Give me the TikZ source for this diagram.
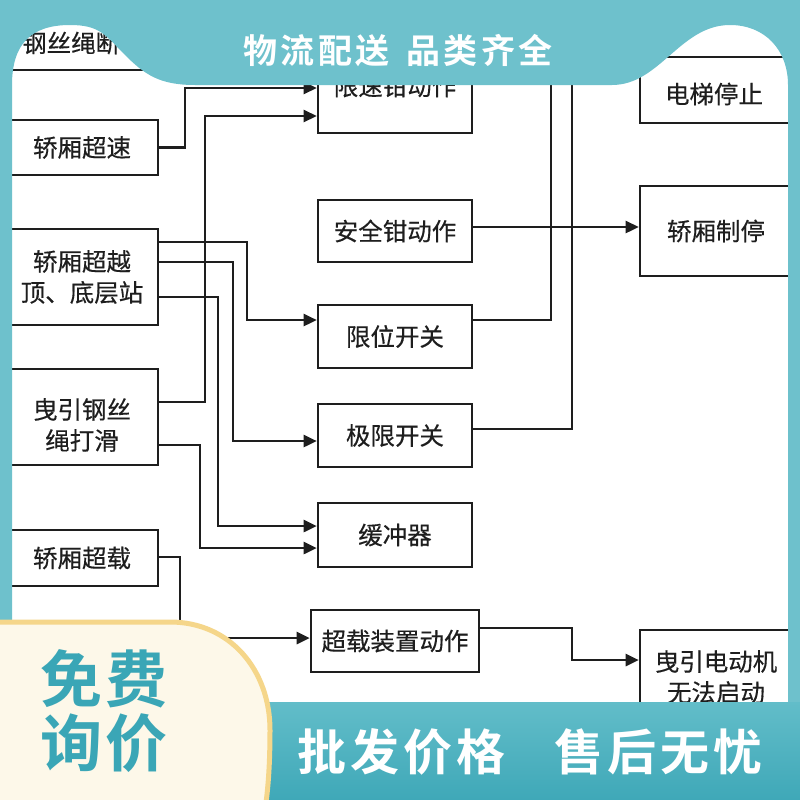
\documentclass[tikz,border=0pt]{standalone}
\usepackage{fontspec}
\newfontfamily\cjk{Noto Sans CJK SC}[BoldFont={* Bold}]
\newfontfamily\cjkm{Noto Sans CJK SC}[FakeBold=0.35]
\usetikzlibrary{arrows.meta,calc}
\definecolor{frame}{HTML}{6EC1CC}
\definecolor{bandA}{HTML}{62BDC9}
\definecolor{bandB}{HTML}{3DA7B7}
\definecolor{cream}{HTML}{FDF8E9}
\definecolor{goldb}{HTML}{F5D68A}
\definecolor{tealtxt}{HTML}{3AA6B6}
\definecolor{ink}{HTML}{1E1E1E}
\tikzset{
  boxtext/.style={font=\cjkm\fontsize{24.5}{31}\selectfont, text=ink, align=center},
  box/.style={draw=ink, line width=2.6pt, boxtext, inner sep=0pt},
  arr/.style={draw=ink, line width=2.6pt, -{Triangle[length=13pt,width=12pt]}},
}
\begin{document}
\begin{tikzpicture}[x=1pt,y=-1pt]
\useasboundingbox (0,0) rectangle (800,800);
\fill[white] (0,0) rectangle (800,800);
% left column
\node[box, minimum width=200pt, minimum height=54pt] (wirebox) at (106,43) {};
\node[boxtext, inner sep=0pt, anchor=west] (wiretxt) at (22,43) {钢丝绳断裂};
\node[box, minimum width=152pt, minimum height=55pt] (speed) at (82,147.5) {轿厢超速};
\node[box, minimum width=152pt, minimum height=96pt] (over) at (82,277) {轿厢超越\\顶、底层站};
\node[box, minimum width=152pt, minimum height=96pt] (trac) at (82,417) {};
\node[boxtext, inner sep=0pt] (tractxt) at (82,425) {曳引钢丝\\绳打滑};
\node[box, minimum width=152pt, minimum height=56pt] (overload) at (82,558) {轿厢超载};
% middle column
\node[box, minimum width=154pt, minimum height=94pt] (vsp) at (395,86) {限速钳动作};
\node[box, minimum width=154pt, minimum height=62pt] (safety) at (395,231) {安全钳动作};
\node[box, minimum width=154pt, minimum height=63pt] (limsw) at (395,336.5) {限位开关};
\node[box, minimum width=154pt, minimum height=63pt] (finsw) at (395,435.5) {极限开关};
\node[box, minimum width=154pt, minimum height=64pt] (buf) at (395,535) {缓冲器};
\node[box, minimum width=168pt, minimum height=62pt] (ovdev) at (395,641) {超载装置动作};
% right column
\node[box, minimum width=152pt, minimum height=66pt] (stop) at (716,90) {};
\node[boxtext, inner sep=0pt] (stoptxt) at (714,94) {电梯停止};
\node[box, minimum width=152pt, minimum height=90pt] (brake) at (716,231) {轿厢制停};
\node[box, minimum width=152pt, minimum height=94pt] (motor) at (716,677) {曳引电动机\\无法启动};
% connectors
\draw[arr] (speed.east) -| (185,88) -- (vsp.west |- 0,88);
\draw[arr] (trac.east |- 0,402) -| (205,116) -- (vsp.west |- 0,116);
\draw[arr] (over.east |- 0,242) -| (247,320) -- (limsw.west |- 0,320);
\draw[arr] (over.east |- 0,262) -| (233,441) -- (finsw.west |- 0,441);
\draw[arr] (over.east |- 0,297) -| (218,526) -- (buf.west |- 0,526);
\draw[arr] (trac.east |- 0,445) -| (200,548) -- (buf.west |- 0,548);
\draw[arr] (overload.east |- 0,557) -| (180,638) -- (ovdev.west |- 0,638);
\draw[arr] (ovdev.east |- 0,628) -| (572,660) -- (motor.west |- 0,660);
\draw[arr] (safety.east |- 0,227) -- (brake.west |- 0,227);
\draw[arr] (limsw.east |- 0,320) -| (551,68) -- (stop.west |- 0,68);
\draw[arr] (finsw.east |- 0,429) -| (572,68) -- (stop.west |- 0,68);
% frame
\fill[frame, even odd rule] (-5,-5) rectangle (805,805)
  (12,805) -- (12,85) .. controls (12,45) and (30,25) .. (70,25)
  .. controls (100,25) and (105,35) .. (125,55)
  .. controls (145,75) and (160,85) .. (195,85) -- (612,85)
  .. controls (660,85) and (680,25) .. (730,25)
  .. controls (765,25) and (788,50) .. (788,85) -- (788,805) -- cycle;
% bottom band
\shade[top color=bandA, bottom color=bandB] (200,702) rectangle (805,805);
\filldraw[fill=cream, draw=goldb, line width=5pt] (-5,622) -- (170,622) .. controls (230,622) and (270,670) .. (270,730) .. controls (270,765) and (268,790) .. (265,810) -- (-5,810) -- cycle;
% banner texts
\node[font=\cjk\bfseries\fontsize{34}{34}\selectfont\addfontfeature{LetterSpace=10}, text=white, inner sep=0pt] (toptxt) at (398,51) {物流配送\hspace{0.5em}品类齐全};
\node[font=\cjk\bfseries\fontsize{62}{64}\selectfont\addfontfeature{LetterSpace=6}, text=tealtxt, align=center, inner sep=0pt] (freetxt) at (104,711) {免费\\询价};
\node[font=\cjk\bfseries\fontsize{49}{49}\selectfont\addfontfeature{LetterSpace=8}, text=white, inner sep=0pt] (bandtxt) at (530,752) {批发价格\hspace{1em}售后无忧};
\end{tikzpicture}
\end{document}
